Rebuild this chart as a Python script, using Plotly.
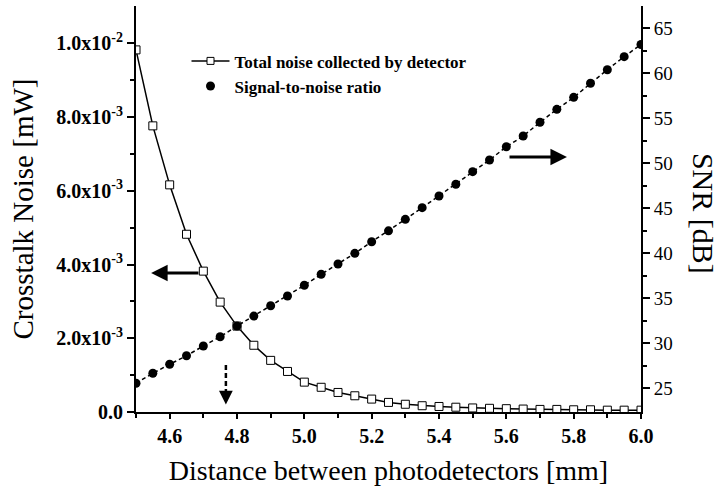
import plotly.graph_objects as go

distance = [4.50, 4.55, 4.60, 4.65, 4.70, 4.75, 4.80, 4.85, 4.90, 4.95,
            5.00, 5.05, 5.10, 5.15, 5.20, 5.25, 5.30, 5.35, 5.40, 5.45,
            5.50, 5.55, 5.60, 5.65, 5.70, 5.75, 5.80, 5.85, 5.90, 5.95, 6.00]
noise_mw = [0.00982, 0.00776, 0.00616, 0.00482, 0.00382, 0.00298, 0.00233, 0.00181, 0.00140, 0.00110,
            0.00081, 0.00067, 0.00053, 0.00044, 0.00035, 0.00026, 0.00021, 0.00017, 0.00015, 0.00013,
            0.00011, 0.00010, 0.00009, 0.00008, 0.00007, 0.00007, 0.00006, 0.00006, 0.00005, 0.00005, 0.00005]
snr_db = [25.56, 26.67, 27.67, 28.62, 29.70, 30.73, 31.92, 33.03, 34.18, 35.26,
          36.45, 37.67, 38.81, 40.00, 41.29, 42.50, 43.78, 45.07, 46.37, 47.67,
          49.07, 50.37, 51.84, 53.03, 54.56, 56.00, 57.33, 58.90, 60.40, 61.85, 63.20]

left_tickvals = [0.0, 0.002, 0.004, 0.006, 0.008, 0.010]
left_ticktext = ["0.0", "2.0x10<sup>-3</sup>", "4.0x10<sup>-3</sup>", "6.0x10<sup>-3</sup>",
                 "8.0x10<sup>-3</sup>", "1.0x10<sup>-2</sup>"]
x_tickvals = [4.6, 4.8, 5.0, 5.2, 5.4, 5.6, 5.8, 6.0]
x_ticktext = ["4.6", "4.8", "5.0", "5.2", "5.4", "5.6", "5.8", "6.0"]
right_tickvals = [25, 30, 35, 40, 45, 50, 55, 60, 65]

legend_names = ["Total noise collected by detector", "Signal-to-noise ratio"]

FONT = "Liberation Serif, Times New Roman, serif"

fig = go.Figure()

fig.add_trace(go.Scatter(
    x=distance, y=noise_mw, mode="lines+markers", showlegend=False,
    line=dict(color="black", width=1.5),
    marker=dict(symbol="square", size=8, color="white", line=dict(color="black", width=1)),
    yaxis="y", xaxis="x"))
fig.add_trace(go.Scatter(
    x=distance, y=snr_db, mode="lines+markers", showlegend=False,
    line=dict(color="black", width=1.5, dash="4px,3px"),
    marker=dict(symbol="circle", size=9, color="black"),
    yaxis="y2", xaxis="x"))

# legend entries
fig.add_trace(go.Scatter(
    x=[None], y=[None], mode="lines+markers", name=legend_names[0],
    line=dict(color="black", width=1.5),
    marker=dict(symbol="square", size=7, color="white", line=dict(color="black", width=1))))
fig.add_trace(go.Scatter(
    x=[None], y=[None], mode="markers", name=legend_names[1],
    marker=dict(symbol="circle", size=9, color="black")))

XR = [4.5, 6.0]
fig.update_layout(
    width=722, height=491,
    margin=dict(l=136, r=81, t=6, b=79),
    plot_bgcolor="white", paper_bgcolor="white",
    font=dict(family=FONT, color="black"),
    xaxis=dict(
        range=XR, tickmode="array", tickvals=x_tickvals, ticktext=x_ticktext,
        ticks="outside", ticklen=5, tickwidth=2, tickcolor="black",
        minor=dict(tickvals=[4.5, 4.7, 4.9, 5.1, 5.3, 5.5, 5.7, 5.9], ticks="outside", ticklen=4, tickwidth=2, tickcolor="black"),
        showline=True, linewidth=2, linecolor="black", showgrid=False, zeroline=False,
        tickfont=dict(family=FONT, size=20, weight="bold"),
        title=dict(text="Distance between photodetectors [mm]", font=dict(family=FONT, size=28), standoff=14),
    ),
    xaxis2=dict(
        range=XR, overlaying="x", side="top", tickmode="linear", tick0=4.5, dtick=0.1,
        ticks="inside", ticklen=5, tickwidth=2, tickcolor="black", showticklabels=False,
        showline=True, linewidth=2, linecolor="black", showgrid=False, zeroline=False,
    ),
    yaxis=dict(
        range=[0, 0.01101], tickmode="array", tickvals=left_tickvals, ticktext=left_ticktext,
        ticks="outside", ticklen=7, tickwidth=2, tickcolor="black",
        minor=dict(tickvals=[0.001, 0.003, 0.005, 0.007, 0.009], ticks="outside", ticklen=4, tickwidth=2, tickcolor="black"),
        showline=True, linewidth=2, linecolor="black", showgrid=False, zeroline=False,
        tickfont=dict(family=FONT, size=20, weight="bold"),
        title=dict(text="Crosstalk Noise [mW]", font=dict(family=FONT, size=29), standoff=14),
    ),
    yaxis2=dict(
        range=[22.37, 67.48], overlaying="y", side="right", tickmode="array", tickvals=right_tickvals,
        ticks="outside", ticklen=7, tickwidth=2, tickcolor="black",
        minor=dict(tickvals=[27.5, 32.5, 37.5, 42.5, 47.5, 52.5, 57.5, 62.5, 67.5], ticks="outside", ticklen=4, tickwidth=2, tickcolor="black"),
        showline=True, linewidth=2, linecolor="black", showgrid=False, zeroline=False,
        tickfont=dict(family=FONT, size=19),
    ),
    legend=dict(x=0.1, y=0.908, xanchor="left", yanchor="top", bgcolor="rgba(0,0,0,0)",
                font=dict(family=FONT, size=17, weight="bold"), tracegroupgap=0, itemwidth=38),
)

# right axis title reading top-to-bottom
fig.add_annotation(xref="paper", yref="paper", x=1.125, y=0.49, text="SNR [dB]", textangle=90,
                   showarrow=False, font=dict(family=FONT, size=30), xanchor="center", yanchor="middle")

# arrows
fig.add_annotation(x=4.545, y=0.00377, ax=4.69, ay=0.00377, xref="x", yref="y", axref="x", ayref="y",
                   text="", showarrow=True, arrowhead=2, arrowsize=1.1, arrowwidth=3, arrowcolor="black")
fig.add_annotation(x=5.78, y=50.7, ax=5.605, ay=50.7, xref="x", yref="y2", axref="x", ayref="y2",
                   text="", showarrow=True, arrowhead=2, arrowsize=1.1, arrowwidth=3, arrowcolor="black")
fig.add_shape(type="line", x0=4.767, x1=4.767, y0=27.6, y1=24.6, xref="x", yref="y2",
              line=dict(color="black", width=2.5, dash="5px,3px"))
fig.add_annotation(x=4.767, y=23.2, ax=4.767, ay=24.8, xref="x", yref="y2", axref="x", ayref="y2",
                   text="", showarrow=True, arrowhead=2, arrowsize=1.1, arrowwidth=2.5, arrowcolor="black")

fig.write_html("out.html")
